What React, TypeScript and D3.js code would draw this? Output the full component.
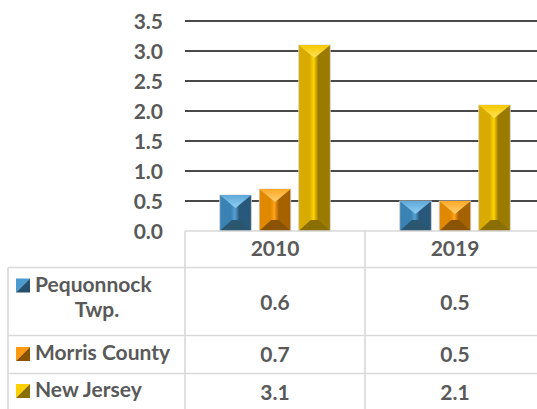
import React from 'react'
import * as d3 from 'd3'

// chart values
const years = ['2010', '2019']
const seriesNames = ['Pequonnock Twp.', 'Morris County', 'New Jersey']
const pequonnock = [0.6, 0.5]
const morris = [0.7, 0.5]
const newJersey = [3.1, 2.1]
const yTicks = [0, 0.5, 1, 1.5, 2, 2.5, 3, 3.5]

const values = [pequonnock, morris, newJersey]

// bevel shades for each series
const shades = [
  { left: '#3a82b3', center: '#559fd1', right: '#29597a', top: '#5fa8d8', tip: '#8fd0f5', bottom: '#2a5670', key1: '#4a9ad0', key2: '#24506e' },
  { left: '#e08800', center: '#ffa21a', right: '#a66200', top: '#ffa828', tip: '#ffd070', bottom: '#8a5300', key1: '#ff9a10', key2: '#8a5300' },
  { left: '#d9ab00', center: '#ffd500', right: '#9a7a00', top: '#f5c800', tip: '#ffe35a', bottom: '#8a6e00', key1: '#ffd000', key2: '#8a6e00' },
]

const W = 537
const H = 409
const textCol = '#595959'
const lineCol = '#d9d9d9'
const font = 'Lato, "Open Sans", sans-serif'
const fs = 21

const App = () => {
  const x0 = d3.scaleBand().domain(years).range([185, 545])
  const y = d3.scaleLinear().domain([0, 3.5]).range([231, 21])

  const bars: any[] = []
  years.forEach((yr, i) => {
    const c = (x0(yr) as number) + x0.bandwidth() / 2
    const x1 = d3.scaleBand().domain(seriesNames).range([c - 55.25, c + 55.25]).paddingInner(0.2)
    seriesNames.forEach((s, j) => {
      const v = values[j][i]
      const bx = x1(s) as number
      const bw = x1.bandwidth()
      const by = y(v)
      const bh = y(0) - by
      const cx = bx + bw / 2
      const ih = Math.min(12, bw / 2)
      const tv = Math.min(13, bh / 2)
      const bv = Math.min(11, bh / 2)
      const sh = shades[j]
      bars.push(
        <g key={yr + s}>
          <rect x={bx} y={by} width={bw} height={bh} fill={`url(#grad${j})`} stroke="#d4d4d4" strokeWidth={0.8} />
          <polygon points={`${bx},${by} ${bx + bw},${by} ${cx},${by + tv}`} fill={`url(#top${j})`} />
          <polygon
            points={`${bx},${y(0)} ${bx + bw},${y(0)} ${bx + bw - ih},${y(0) - bv} ${bx + ih},${y(0) - bv}`}
            fill={sh.bottom}
          />
        </g>
      )
    })
  })

  const rowLines = [267.5, 335.5, 373.5]
  const rowLabelY = [291.5, 360, 397]

  return (
    <svg width={W} height={H} style={{ position: 'absolute', left: 0, top: 0 }} fontFamily={font} fontWeight="bold">
      <defs>
        {shades.map((sh, j) => (
          <linearGradient key={'g' + j} id={`grad${j}`} x1="0" x2="1" y1="0" y2="0">
            <stop offset="0%" stopColor={sh.left} />
            <stop offset="35%" stopColor={sh.left} />
            <stop offset="48%" stopColor={sh.center} />
            <stop offset="62%" stopColor={sh.right} />
            <stop offset="100%" stopColor={sh.right} />
          </linearGradient>
        ))}
        {shades.map((sh, j) => (
          <linearGradient key={'t' + j} id={`top${j}`} x1="0" x2="0" y1="0" y2="1">
            <stop offset="0%" stopColor={sh.top} />
            <stop offset="100%" stopColor={sh.tip} />
          </linearGradient>
        ))}
      </defs>
      <rect width={W} height={H} fill="#fff" />

      {yTicks.filter(t => t > 0).map(t => (
        <line key={t} x1={185} x2={W} y1={y(t)} y2={y(t)} stroke="#0d0d0d" strokeWidth={1.4} />
      ))}
      {yTicks.map(t => (
        <text key={t} x={163} y={y(t)} dy="0.36em" textAnchor="end" fontSize={fs} fill={textCol}>
          {t.toFixed(1)}
        </text>
      ))}

      {bars}

      {/* data table */}
      <g stroke={lineCol} strokeWidth={1.6}>
        <line x1={185} x2={W} y1={231} y2={231} />
        {rowLines.map(r => (
          <line key={r} x1={8} x2={W} y1={r} y2={r} />
        ))}
        <line x1={8} x2={8} y1={267.5} y2={H} />
        {years.map(yr => (
          <line key={yr} x1={x0(yr) as number} x2={x0(yr) as number} y1={231} y2={H} />
        ))}
      </g>
      {years.map(yr => (
        <text key={yr} x={(x0(yr) as number) + x0.bandwidth() / 2} y={255.5} textAnchor="middle" fontSize={fs} fill={textCol}>
          {yr}
        </text>
      ))}
      {seriesNames.map((s, j) => {
        const ky = rowLabelY[j] - 13
        const sh = shades[j]
        return (
          <g key={s}>
            <polygon points={`${16},${ky} ${30},${ky} ${16},${ky + 14}`} fill={sh.key1} />
            <polygon points={`${30},${ky} ${30},${ky + 14} ${16},${ky + 14}`} fill={sh.key2} />
            {j === 0 ? (
              <>
                <text x={35} y={rowLabelY[j]} fontSize={fs} fill={textCol}>Pequonnock</text>
                <text x={97} y={317} textAnchor="middle" fontSize={fs} fill={textCol}>Twp.</text>
              </>
            ) : (
              <text x={35} y={rowLabelY[j]} fontSize={fs} fill={textCol}>{s}</text>
            )}
            {years.map((yr, i) => (
              <text
                key={yr}
                x={(x0(yr) as number) + x0.bandwidth() / 2}
                y={j === 0 ? 310 : j === 1 ? 361.5 : 400}
                textAnchor="middle"
                fontSize={fs}
                fill={textCol}
              >
                {values[j][i].toFixed(1)}
              </text>
            ))}
          </g>
        )
      })}
    </svg>
  )
}

export default App
